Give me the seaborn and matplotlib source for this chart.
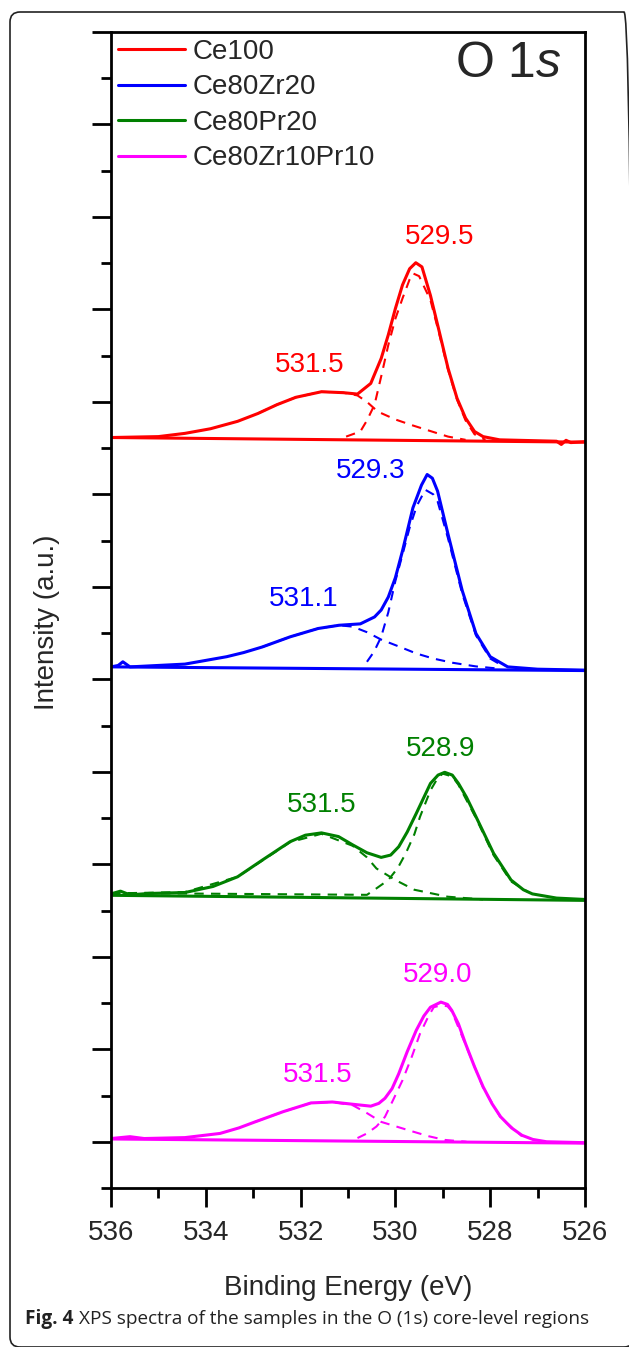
import matplotlib
matplotlib.use("Agg")
import matplotlib.pyplot as plt
import seaborn as sns
import pandas as pd
from matplotlib.patches import FancyBboxPatch
from matplotlib.transforms import IdentityTransform
from matplotlib.ticker import MultipleLocator

samples = ["Ce100", "Ce80Zr20", "Ce80Pr20", "Ce80Zr10Pr10"]
colors = ["#ff0000", "#0000ff", "#008000", "#ff00ff"]

# --- Ce100 ---
ce100_env_x = [536.0, 535.0, 534.44, 533.9, 533.33, 532.9, 532.5, 532.1, 531.56, 531.1, 530.8, 530.52,
               530.3, 530.15, 530.0, 529.85, 529.7, 529.57, 529.44, 529.26, 529.07, 528.89, 528.7,
               528.52, 528.33, 528.15, 527.8, 527.0, 526.6, 526.5, 526.4, 526.3, 526.0]
ce100_env_y = [15.23, 15.25, 15.32, 15.42, 15.58, 15.75, 15.94, 16.1, 16.22, 16.2, 16.17, 16.4,
               16.94, 17.45, 18.02, 18.53, 18.88, 19.01, 18.92, 18.3, 17.5, 16.73, 16.08,
               15.65, 15.36, 15.25, 15.18, 15.16, 15.15, 15.08, 15.17, 15.12, 15.14]
ce100_c1_x = [532.9, 532.5, 532.1, 531.56, 531.1, 530.8, 530.6, 530.37, 530.0, 529.63, 529.2, 528.89, 528.52]
ce100_c1_y = [15.75, 15.94, 16.1, 16.22, 16.2, 16.14, 16.0, 15.79, 15.62, 15.49, 15.35, 15.25, 15.18]
ce100_c2_x = [531.04, 530.74, 530.6, 530.44, 530.3, 530.15, 530.0, 529.85, 529.7, 529.63, 529.5,
              529.26, 529.07, 528.89, 528.7, 528.52, 528.33, 528.1]
ce100_c2_y = [15.25, 15.36, 15.6, 15.94, 16.55, 17.23, 17.8, 18.24, 18.65, 18.78, 18.72,
              18.2, 17.45, 16.7, 16.05, 15.6, 15.3, 15.18]
ce100_bg_x = [536.0, 526.0]
ce100_bg_y = [15.23, 15.13]

# --- Ce80Zr20 ---
zr_env_x = [536.0, 535.85, 535.75, 535.6, 534.44, 533.56, 533.2, 532.81, 532.22, 531.63, 531.19, 530.74,
            530.44, 530.3, 530.15, 530.0, 529.85, 529.63, 529.45, 529.33, 529.22, 529.11, 528.89,
            528.59, 528.3, 528.0, 527.63, 527.0, 526.0]
zr_env_y = [10.27, 10.3, 10.38, 10.27, 10.33, 10.49, 10.58, 10.7, 10.92, 11.1, 11.17, 11.2,
            11.35, 11.5, 11.78, 12.2, 12.78, 13.71, 14.2, 14.43, 14.35, 14.07, 13.14,
            11.92, 10.99, 10.49, 10.27, 10.22, 10.2]
zr_c1_x = [532.81, 532.22, 531.63, 531.19, 530.9, 530.6, 530.3, 529.9, 529.56, 529.2, 528.8, 528.3, 527.9]
zr_c1_y = [10.7, 10.92, 11.1, 11.17, 11.14, 11.02, 10.86, 10.7, 10.56, 10.45, 10.36, 10.28, 10.24]
zr_c2_x = [530.6, 530.45, 530.3, 530.15, 530.0, 529.85, 529.7, 529.55, 529.37, 529.2, 529.11,
           528.89, 528.59, 528.3, 528.0, 527.7]
zr_c2_y = [10.38, 10.6, 10.92, 11.45, 12.13, 12.7, 13.28, 13.75, 14.1, 14.0, 13.85,
           13.05, 11.85, 10.95, 10.45, 10.27]
zr_bg_x = [536.0, 526.0]
zr_bg_y = [10.27, 10.19]

# --- Ce80Pr20 ---
pr_env_x = [536.0, 535.8, 535.6, 535.2, 534.44, 533.85, 533.33, 532.81, 532.22, 531.9, 531.56, 531.2,
            530.9, 530.6, 530.3, 530.1, 529.93, 529.75, 529.56, 529.26, 529.1, 528.96, 528.8,
            528.67, 528.5, 528.3, 527.93, 527.56, 527.3, 527.11, 526.6, 526.0]
pr_env_y = [5.36, 5.42, 5.34, 5.37, 5.39, 5.52, 5.73, 6.09, 6.49, 6.63, 6.68, 6.6,
            6.42, 6.25, 6.15, 6.2, 6.38, 6.7, 7.1, 7.75, 7.93, 7.99, 7.93,
            7.75, 7.45, 7.03, 6.24, 5.66, 5.45, 5.36, 5.27, 5.24]
pr_c1_x = [536.0, 534.44, 533.33, 532.81, 532.22, 531.56, 530.9, 530.6, 530.4, 530.0, 529.6, 528.9, 528.15]
pr_c1_y = [5.37, 5.4, 5.73, 6.08, 6.48, 6.66, 6.4, 6.15, 5.91, 5.66, 5.45, 5.3, 5.24]
pr_c2_x = [536.0, 530.6, 530.4, 530.15, 529.95, 529.78, 529.6, 529.48, 529.26, 529.1, 529.0,
           528.8, 528.67, 528.3, 527.93, 527.56, 527.2]
pr_c2_y = [5.38, 5.34, 5.48, 5.66, 5.92, 6.24, 6.65, 7.03, 7.6, 7.88, 7.96,
           7.9, 7.72, 7.0, 6.2, 5.63, 5.4]
pr_bg_x = [536.0, 526.0]
pr_bg_y = [5.33, 5.22]

# --- Ce80Zr10Pr10 ---
zp_env_x = [536.0, 535.6, 535.3, 534.44, 533.7, 533.3, 532.96, 532.37, 531.78, 531.33, 530.89, 530.52,
            530.35, 530.22, 530.07, 529.93, 529.75, 529.56, 529.4, 529.26, 529.04, 528.9, 528.81,
            528.67, 528.52, 528.33, 528.15, 527.96, 527.78, 527.55, 527.33, 527.1, 526.81, 526.0]
zp_env_y = [0.07, 0.11, 0.07, 0.09, 0.18, 0.3, 0.43, 0.65, 0.84, 0.86, 0.81, 0.77,
            0.83, 0.94, 1.15, 1.47, 1.95, 2.41, 2.72, 2.91, 3.02, 2.97, 2.84,
            2.55, 2.12, 1.62, 1.19, 0.82, 0.54, 0.3, 0.14, 0.05, 0.0, -0.02]
zp_c1_x = [532.96, 532.37, 531.78, 531.33, 530.9, 530.6, 530.3, 529.95, 529.63, 529.3, 528.96, 528.5]
zp_c1_y = [0.43, 0.65, 0.84, 0.86, 0.79, 0.62, 0.43, 0.32, 0.22, 0.12, 0.04, 0.0]
zp_c2_x = [530.8, 530.6, 530.4, 530.22, 530.05, 529.85, 529.65, 529.48, 529.3, 529.19, 529.04,
           528.9, 528.81, 528.52, 528.15, 527.78, 527.33]
zp_c2_y = [0.08, 0.18, 0.33, 0.54, 0.9, 1.33, 1.85, 2.34, 2.72, 2.91, 2.95,
           2.93, 2.82, 2.1, 1.17, 0.52, 0.12]
zp_bg_x = [536.0, 526.0]
zp_bg_y = [0.06, -0.03]

# peak labels per sample
peak_labels = [
    ["529.5", "531.5"],
    ["529.3", "531.1"],
    ["528.9", "531.5"],
    ["529.0", "531.5"],
]
label_x = [[529.07, 531.81], [530.53, 531.93], [529.04, 531.56], [529.11, 531.63]]
label_y = [[19.57, 16.8], [14.5, 11.74], [8.5, 7.28], [3.6, 1.44]]

envelopes = [(ce100_env_x, ce100_env_y), (zr_env_x, zr_env_y), (pr_env_x, pr_env_y), (zp_env_x, zp_env_y)]
comps = [
    [(ce100_c1_x, ce100_c1_y), (ce100_c2_x, ce100_c2_y)],
    [(zr_c1_x, zr_c1_y), (zr_c2_x, zr_c2_y)],
    [(pr_c1_x, pr_c1_y), (pr_c2_x, pr_c2_y)],
    [(zp_c1_x, zp_c1_y), (zp_c2_x, zp_c2_y)],
]
backgrounds = [(ce100_bg_x, ce100_bg_y), (zr_bg_x, zr_bg_y), (pr_bg_x, pr_bg_y), (zp_bg_x, zp_bg_y)]

sns.set_style("ticks")
plt.rcParams["font.family"] = ["Liberation Sans", "DejaVu Sans"]
plt.rcParams["mathtext.fontset"] = "custom"
plt.rcParams["mathtext.rm"] = "Liberation Sans"
plt.rcParams["mathtext.it"] = "Liberation Sans:italic"

fig = plt.figure(figsize=(6.29, 13.47), dpi=100)
ax = fig.add_axes([111 / 629, 159 / 1347, 474 / 629, 1156 / 1347])

handles = []
for i, name in enumerate(samples):
    c = colors[i]
    bx, by = backgrounds[i]
    sns.lineplot(x=bx, y=by, color=c, lw=2.2, sort=False, estimator=None, ax=ax)
    for cx, cy in comps[i]:
        sns.lineplot(x=cx, y=cy, color=c, lw=1.5, sort=False, estimator=None, ax=ax,
                     linestyle=(0, (4.5, 3.5)))
    ex, ey = envelopes[i]
    df = pd.DataFrame({"energy": ex, "intensity": ey})
    sns.lineplot(data=df, x="energy", y="intensity", color=c, lw=2.2, sort=False,
                 estimator=None, ax=ax)
    handles.append(ax.lines[-1])
    for t, lx, ly in zip(peak_labels[i], label_x[i], label_y[i]):
        ax.text(lx, ly, t, color=c, fontsize=20, ha="center", va="center")

ax.set_xlim(536, 526)
ax.set_ylim(-1, 24)
ax.xaxis.set_major_locator(MultipleLocator(2))
ax.xaxis.set_minor_locator(MultipleLocator(1))
ax.set_yticks(range(0, 25, 2))
ax.set_yticks(range(-1, 24, 2), minor=True)
ax.set_yticklabels([])
ax.tick_params(axis="both", which="major", direction="out", length=14, width=2, color="black",
               labelsize=20, pad=9)
ax.tick_params(axis="both", which="minor", direction="out", length=7, width=2, color="black")
ax.tick_params(top=False, right=False, which="both")
for s in ax.spines.values():
    s.set_linewidth(2)
    s.set_color("black")
ax.set_facecolor("white")

ax.set_xlabel("Binding Energy (eV)", fontsize=20, va="center")
ax.xaxis.set_label_coords(0.5, -0.0865)
ax.set_ylabel("Intensity (a.u.)", fontsize=20, va="center")
ax.yaxis.set_label_coords(-0.135, 0.489)

ax.text(0.951, 0.972, r"O 1$\mathit{s}$", transform=ax.transAxes, fontsize=36,
        ha="right", va="center")

leg = ax.legend(handles, samples, loc="upper left", bbox_to_anchor=(0.0148, 0.994),
                frameon=False, fontsize=20, handlelength=2.4, handletextpad=0.3,
                labelspacing=0.34, borderpad=0, borderaxespad=0)

# caption
renderer = fig.canvas.get_renderer()
cap_y = (1347 - 1319) / 1347
t1 = fig.text(25 / 629, cap_y, "Fig. 4", fontsize=13.7, fontweight="bold",
              family=["Open Sans", "DejaVu Sans"], va="center", color="#222222")
bb = t1.get_window_extent(renderer)
fig.text((bb.x1 + 6) / 629, cap_y,
         "XPS spectra of the samples in the O (1s) core-level regions", fontsize=13.7,
         family=["Open Sans", "DejaVu Sans"], va="center", color="#222222")

# rounded page frame (right side runs off the image)
frame = FancyBboxPatch((10, 0), 624, 1335, boxstyle="round,pad=0,rounding_size=10",
                       transform=IdentityTransform(), fill=False, lw=1.2, ec="#222222")
fig.add_artist(frame)

fig.savefig("out.png", dpi=100)
